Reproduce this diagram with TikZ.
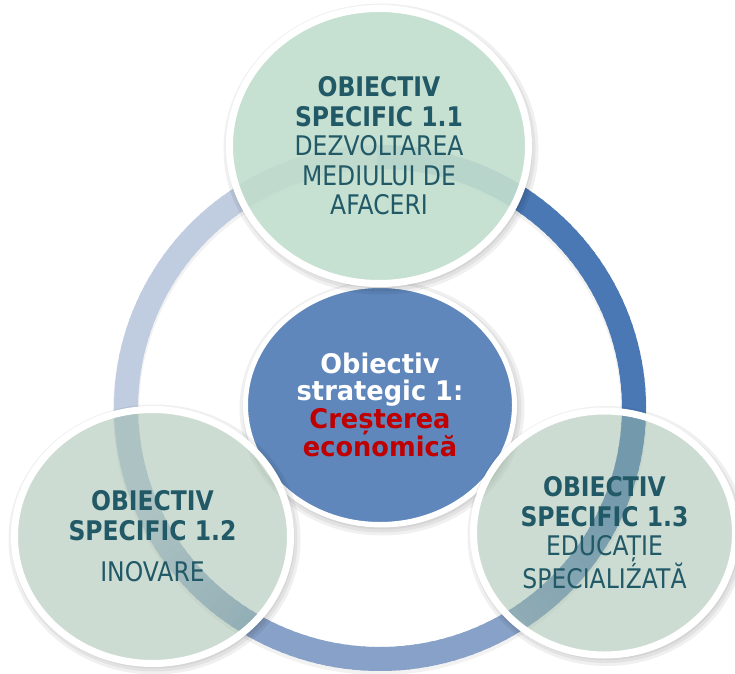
\documentclass[tikz,border=0pt]{standalone}
\usepackage{fontspec}
\setmainfont{DejaVu Sans}[FakeStretch=0.87]
\newfontfamily\stratfont{DejaVu Sans}[FakeStretch=0.95]
\usetikzlibrary{shapes.geometric}
\definecolor{ringlight}{HTML}{C0CCE0}
\definecolor{ringmed}{HTML}{88A1C8}
\definecolor{ringdark}{HTML}{4A78B4}
\definecolor{specgreen}{HTML}{9BBAA5}
\definecolor{topgreen}{HTML}{C1DDCD}
\definecolor{spectext}{HTML}{215967}
\definecolor{stratblue}{HTML}{5F87BB}
\definecolor{stratred}{HTML}{C00000}
\tikzset{
  specbox/.style={ellipse, draw=white, line width=7pt, fill=specgreen,
    fill opacity=0.5, text opacity=1, text=spectext, align=center,
    inner sep=0pt, font=\fontsize{27}{29.5}\selectfont},
  stratbox/.style={ellipse, draw=white, line width=5pt, fill=stratblue,
    text=white, align=center, inner sep=0pt,
    font=\stratfont\bfseries\fontsize{27}{27.5}\selectfont},
  softshade/.style={draw=black, opacity=0.06},
}
\begin{document}
\begin{tikzpicture}[x=1pt,y=1pt]%
\global\def\circshade#1#2#3{\foreach \w in {2,5,8}
  \draw[softshade, line width=\w pt] ([shift={(2pt,-3pt)}]#1)
    ellipse[x radius=#2pt+\w pt/2, y radius=#3pt+\w pt/2];}
\useasboundingbox (0,0) rectangle (735,673);
\coordinate (mid) at (380,265);
\coordinate (c11) at (379,527);
\coordinate (c12) at (152.5,136.5);
\coordinate (c13) at (604.5,140);
\coordinate (cs) at (380,268);
% ring
\draw[softshade, opacity=0.05, line width=26pt] ([yshift=-3pt]mid) ellipse[x radius=254pt, y radius=251pt];
\foreach \a in {90,92,...,448}{
  \pgfmathsetmacro\ta{min(100,max(0,(\a-205)/35*100))}
  \pgfmathsetmacro\tb{min(100,max(0,(\a-300)/40*100))}
  \draw[line width=24pt, draw=ringdark!\tb!ringmed!\ta!ringlight]
    (mid) ++(\a:254pt and 251pt)
    arc[start angle=\a, end angle=\a+2.6, x radius=254pt, y radius=251pt];
}
% strategic objective
\circshade{cs}{134.5}{119.5}
\node[stratbox, minimum width=269pt, minimum height=239pt] (ostrat) at (cs)
  {Obiectiv\\strategic 1:\\\textcolor{stratred}{Creșterea}\\\textcolor{stratred}{economică}};
% specific objectives
\circshade{c11}{149.5}{137.5}
\node[specbox, fill=topgreen, fill opacity=0.92, minimum width=299pt, minimum height=275pt] (os11) at (c11)
  {\textbf{OBIECTIV}\\\textbf{SPECIFIC 1.1}\\DEZVOLTAREA\\MEDIULUI DE\\AFACERI};
\circshade{c12}{138}{127}
\node[specbox, minimum width=276pt, minimum height=254pt] (os12) at (c12)
  {\textbf{OBIECTIV}\\\textbf{SPECIFIC 1.2}\\[12pt]INOVARE};
\circshade{c13}{131}{122}
\node[specbox, minimum width=262pt, minimum height=244pt] (os13) at (c13)
  {\textbf{OBIECTIV}\\\textbf{SPECIFIC 1.3}\\EDUCAȚIE\\SPECIALIŹATĂ};
\end{tikzpicture}
\end{document}
